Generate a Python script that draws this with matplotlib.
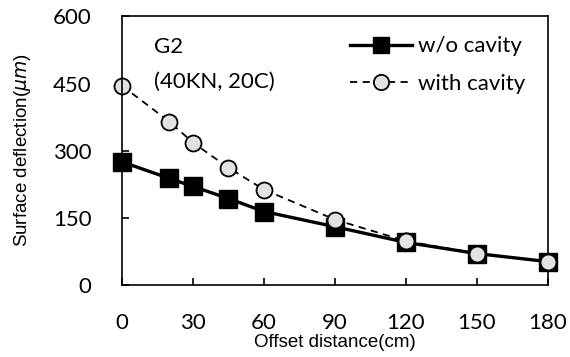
import numpy as np
import matplotlib
matplotlib.use("Agg")
import matplotlib.pyplot as plt
from matplotlib.lines import Line2D

# offset distance (cm)
offset = [0, 20, 30, 45, 60, 90, 120, 150, 180]
# surface deflection (um)
no_cavity = [275, 238, 220, 193, 164, 130, 95, 70, 52]
with_cavity = [445, 365, 318, 262, 213, 146, 98, 70, 52]

xticks = [0, 30, 60, 90, 120, 150, 180]
yticks = [0, 150, 300, 450, 600]

fig = plt.figure(figsize=(5.7, 3.57), dpi=100)
ax = fig.add_axes([0.214, 0.202, 0.747, 0.752])

ax.plot(offset, with_cavity, ls=(0, (4, 3)), lw=1.3, color='black',
        marker='o', ms=11.5, mfc='#e2e2e2', mec='black', mew=1.3, zorder=2)
ax.plot(offset, no_cavity, ls='-', lw=2.4, color='black',
        marker='s', ms=12.5, mfc='black', mec='black', zorder=1)
# circles at the tail sit on top of the squares
ax.plot(offset[-3:], with_cavity[-3:], ls='none',
        marker='o', ms=11.5, mfc='#e2e2e2', mec='black', mew=1.3, zorder=3)

ax.set_xlim(0, 180)
ax.set_ylim(0, 600)
ax.set_xticks(xticks)
ax.set_yticks(yticks)
ax.tick_params(direction='in', length=5, width=1.2, labelsize=16)
ax.tick_params(axis='x', pad=20)
ax.tick_params(axis='y', pad=22)
for lab in ax.get_xticklabels() + ax.get_yticklabels():
    lab.set_family('Lato')
for s in ax.spines.values():
    s.set_linewidth(1.2)
for ln in ax.lines:
    ln.set_clip_on(False)

ax.set_xlabel('Offset distance(cm)', family='Liberation Sans', fontsize=13.5, labelpad=1)
ax.set_ylabel(r'Surface deflection($\mu m$)', family='Liberation Sans', fontsize=13.5, labelpad=14)

ax.text(0.075, 0.885, 'G2', transform=ax.transAxes, family='Lato', fontsize=16, va='center')
ax.text(0.075, 0.755, '(40KN, 20C)', transform=ax.transAxes, family='Lato', fontsize=16, va='center')

handles = [
    Line2D([], [], ls='-', lw=2.4, color='black', marker='s', ms=12, mfc='black'),
    Line2D([], [], ls=(0, (4, 3)), lw=1.3, color='black', marker='o', ms=11,
           mfc='#e2e2e2', mec='black', mew=1.3),
]
ax.legend(handles, ['w/o cavity', 'with cavity'], loc='upper right',
          bbox_to_anchor=(0.995, 1.0), frameon=False, handlelength=2.8,
          handletextpad=0.3, labelspacing=0.8, prop={'family': 'Lato', 'size': 16})

fig.savefig('out.png', dpi=100)
